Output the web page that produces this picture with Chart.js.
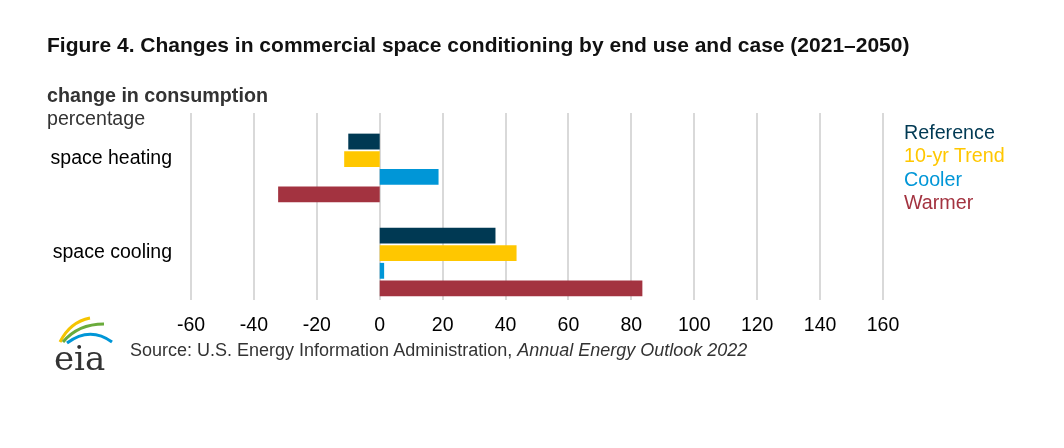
<!DOCTYPE html>
<html lang="en">
<head>
<meta charset="UTF-8">
<title>Figure 4</title>
<style>
  body { margin: 0; width: 1064px; height: 448px; background: #fff; font-family: "Liberation Sans", Arial, sans-serif; position: relative; overflow: hidden; }
  #wrap { position: absolute; left: 0; top: 0; width: 1064px; height: 448px; }
  .title { position: absolute; left: 47px; top: 33px; font-size: 21px; font-weight: bold; color: #111; }
  .unit1 { position: absolute; left: 47px; top: 84px; font-size: 19.7px; font-weight: bold; color: #333; }
  .unit2 { position: absolute; left: 47px; top: 107px; font-size: 19.6px; color: #333; }
  .legend { position: absolute; left: 904px; top: 121px; font-size: 19.7px; line-height: 23.3px; }
  .source { position: absolute; left: 130px; top: 340px; font-size: 18px; color: #333; }
  .logo { position: absolute; left: 50px; top: 312px; }
</style>
</head>
<body>
<div id="wrap"><canvas id="grafico"></canvas></div>
<div class="title">Figure 4. Changes in commercial space conditioning by end use and case (2021–2050)</div>
<div class="unit1">change in consumption</div>
<div class="unit2">percentage</div>
<div class="legend" id="legenda"></div>
<div class="source">Source: U.S. Energy Information Administration, <i>Annual Energy Outlook 2022</i></div>
<svg class="logo" width="70" height="64" viewBox="0 0 70 64">
  <path d="M10 30 Q20 10 40 6" stroke="#f5c400" stroke-width="3" fill="none"/>
  <path d="M13 30 Q28 12 54 12" stroke="#6aab3c" stroke-width="3" fill="none"/>
  <path d="M17 31 Q40 14 62 30" stroke="#0096d7" stroke-width="3" fill="none"/>
  <text x="4" y="58" font-family="DejaVu Serif, serif" font-size="34" fill="#333">eia</text>
</svg>
<script src="https://cdn.jsdelivr.net/npm/chart.js"></script>
<script>
  // dados
  const categorias = ['space heating', 'space cooling'];
  const series = ['Reference', '10-yr Trend', 'Cooler', 'Warmer'];
  const cores = ['#003953', '#ffc700', '#0096d7', '#a33340'];
  const reference = [-10, 36.8];
  const tendencia = [-11.3, 43.5];
  const cooler = [18.7, 1.4];
  const warmer = [-32.3, 83.5];
  const valores = [reference, tendencia, cooler, warmer];
  const xTicks = [-60, -40, -20, 0, 20, 40, 60, 80, 100, 120, 140, 160];

  // legenda em texto colorido
  const leg = document.getElementById('legenda');
  series.forEach((s, i) => {
    const d = document.createElement('div');
    d.textContent = s;
    d.style.color = cores[i];
    leg.appendChild(d);
  });

  // linhas de grade verticais desenhadas atrás das barras
  const gradePlugin = {
    id: 'grade',
    beforeDatasetsDraw(chart) {
      const c = chart.ctx;
      const x = chart.scales.x;
      c.save();
      c.strokeStyle = '#d9d9d9';
      c.lineWidth = 2;
      xTicks.forEach(v => {
        const px = Math.round(x.getPixelForValue(v));
        c.beginPath();
        c.moveTo(px, 113);
        c.lineTo(px, 300);
        c.stroke();
      });
      c.restore();
    }
  };

  new Chart(document.getElementById('grafico'), {
    type: 'bar',
    data: {
      labels: categorias,
      datasets: series.map((s, i) => ({
        label: s,
        data: valores[i],
        backgroundColor: cores[i],
        categoryPercentage: 0.75,
        barPercentage: 0.9
      }))
    },
    options: {
      indexAxis: 'y',
      responsive: true,
      maintainAspectRatio: false,
      animation: false,
      layout: { padding: { left: 0, right: 181, top: 121, bottom: 109 } },
      plugins: { legend: { display: false }, tooltip: { enabled: false } },
      scales: {
        x: {
          min: -60,
          max: 160,
          afterBuildTicks: s => { s.ticks = xTicks.map(v => ({ value: v })); },
          afterFit: s => { s.height = 30; },
          grid: { display: false, drawTicks: false, tickLength: 0 },
          border: { display: false },
          ticks: { color: '#000', padding: 5, font: { family: 'Liberation Sans', size: 19.5 } }
        },
        y: {
          afterFit: s => { s.width = 191; },
          grid: { display: false, drawTicks: false, tickLength: 0 },
          border: { display: false },
          ticks: { color: '#000', padding: 19, labelOffset: -9, font: { family: 'Liberation Sans', size: 19.5 } }
        }
      }
    },
    plugins: [gradePlugin]
  });
</script>
</body>
</html>
